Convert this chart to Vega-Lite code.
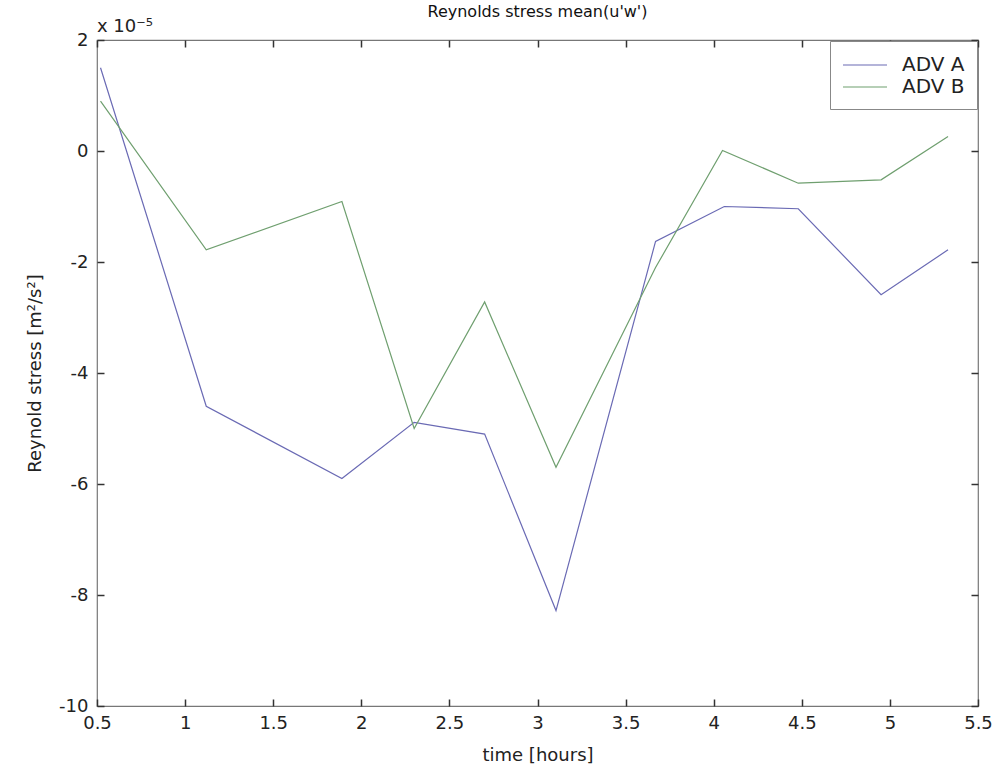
{
  "$schema": "https://vega.github.io/schema/vega-lite/v6.json",
  "width": 881,
  "height": 666,
  "autosize": {"type": "none"},
  "padding": {"left": 97, "top": 40, "right": 19, "bottom": 69},
  "background": "white",
  "title": {"text": "Reynolds stress mean(u'w')", "font": "DejaVu Sans", "fontSize": 16, "fontWeight": "normal", "color": "#111", "offset": -2, "anchor": "middle"},
  "config": {
    "view": {"stroke": "#777", "strokeWidth": 1.2},
    "axis": {"grid": false, "domain": false, "tickColor": "#333", "tickWidth": 1.5, "labelFont": "DejaVu Sans", "labelFontSize": 18, "labelColor": "#222", "titleFont": "DejaVu Sans", "titleFontSize": 18, "titleFontWeight": "normal", "titleColor": "#222"}
  },
  "data": {"values": [
    {"t": 0.52, "v": 1.50, "s": "ADV A"},
    {"t": 1.12, "v": -4.60, "s": "ADV A"},
    {"t": 1.89, "v": -5.90, "s": "ADV A"},
    {"t": 2.30, "v": -4.89, "s": "ADV A"},
    {"t": 2.70, "v": -5.10, "s": "ADV A"},
    {"t": 3.105, "v": -8.28, "s": "ADV A"},
    {"t": 3.67, "v": -1.63, "s": "ADV A"},
    {"t": 4.06, "v": -1.00, "s": "ADV A"},
    {"t": 4.48, "v": -1.04, "s": "ADV A"},
    {"t": 4.95, "v": -2.59, "s": "ADV A"},
    {"t": 5.33, "v": -1.78, "s": "ADV A"},
    {"t": 0.52, "v": 0.90, "s": "ADV B"},
    {"t": 1.12, "v": -1.78, "s": "ADV B"},
    {"t": 1.89, "v": -0.91, "s": "ADV B"},
    {"t": 2.30, "v": -5.00, "s": "ADV B"},
    {"t": 2.70, "v": -2.72, "s": "ADV B"},
    {"t": 3.105, "v": -5.70, "s": "ADV B"},
    {"t": 3.67, "v": -2.10, "s": "ADV B"},
    {"t": 4.05, "v": 0.01, "s": "ADV B"},
    {"t": 4.48, "v": -0.58, "s": "ADV B"},
    {"t": 4.95, "v": -0.52, "s": "ADV B"},
    {"t": 5.33, "v": 0.26, "s": "ADV B"}
  ]},
  "layer": [
    {
      "mark": {"type": "line", "strokeWidth": 1.2},
      "encoding": {
        "x": {"field": "t", "type": "quantitative", "scale": {"domain": [0.5, 5.5], "nice": false, "zero": false},
              "axis": {"orient": "bottom", "values": [0.5, 1, 1.5, 2, 2.5, 3, 3.5, 4, 4.5, 5, 5.5], "ticks": false, "labelPadding": 8, "labelExpr": "'' + datum.value", "title": "time [hours]", "titlePadding": 14, "labelFlush": false}},
        "y": {"field": "v", "type": "quantitative", "scale": {"domain": [-10, 2], "nice": false, "zero": false},
              "axis": {"orient": "left", "values": [-10, -8, -6, -4, -2, 0, 2], "ticks": false, "labelPadding": 9, "labelExpr": "'' + datum.value", "title": "Reynold stress [m²/s²]", "titlePadding": 14}},
        "color": {"field": "s", "type": "nominal", "scale": {"domain": ["ADV A", "ADV B"], "range": ["#6a6ab4", "#6f9f6f"]},
                  "legend": {"title": null, "orient": "top-right", "offset": 1, "symbolType": "M-1,0H3", "symbolSize": 484, "symbolStrokeWidth": 1.2, "labelFont": "DejaVu Sans", "labelFontSize": 20, "labelColor": "#222", "strokeColor": "#888", "padding": 12, "fillColor": "white", "rowPadding": 0, "labelOffset": 36}}
      }
    },
    {
      "mark": {"type": "line", "opacity": 0},
      "encoding": {
        "x": {"field": "t", "type": "quantitative", "axis": {"orient": "top", "values": [0.5, 1, 1.5, 2, 2.5, 3, 3.5, 4, 4.5, 5, 5.5], "offset": -7, "tickSize": 7, "labels": false, "title": null}},
        "y": {"field": "v", "type": "quantitative", "axis": {"orient": "right", "values": [-10, -8, -6, -4, -2, 0, 2], "offset": -7, "tickSize": 7, "labels": false, "title": null}},
        "detail": {"field": "s"}
      }
    },
    {
      "mark": {"type": "line", "opacity": 0},
      "encoding": {
        "x": {"field": "t", "type": "quantitative", "axis": {"orient": "bottom", "values": [0.5, 1, 1.5, 2, 2.5, 3, 3.5, 4, 4.5, 5, 5.5], "offset": -7, "tickSize": 7, "labels": false, "title": null}},
        "y": {"field": "v", "type": "quantitative", "axis": {"orient": "left", "values": [-10, -8, -6, -4, -2, 0, 2], "offset": -7, "tickSize": 7, "labels": false, "title": null}},
        "detail": {"field": "s"}
      }
    },
    {
      "data": {"values": [{"lbl": "x 10⁻⁵"}]},
      "mark": {"type": "text", "align": "left", "baseline": "bottom", "dx": 0, "dy": -4, "font": "DejaVu Sans", "fontSize": 18, "color": "#222"},
      "encoding": {
        "x": {"datum": 0.5, "type": "quantitative", "axis": null},
        "y": {"datum": 2, "type": "quantitative", "axis": null},
        "text": {"field": "lbl"}
      }
    }
  ],
  "resolve": {"axis": {"x": "independent", "y": "independent"}}
}
